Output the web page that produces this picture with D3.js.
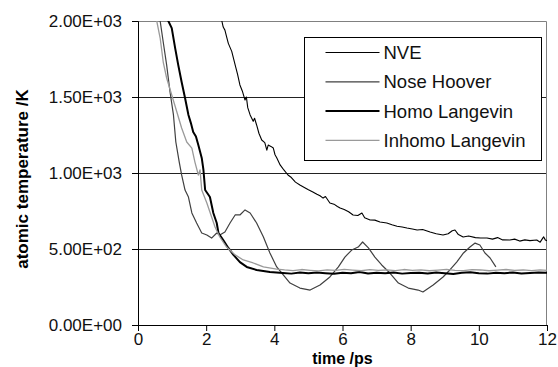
<!DOCTYPE html>
<html>
<head>
<meta charset="utf-8">
<script src="https://cdn.jsdelivr.net/npm/d3@7"></script>
<style>
  body { margin: 0; background: #fff; }
  svg { font-family: Arial, "Liberation Sans", Helvetica, sans-serif; }
</style>
</head>
<body>
<div id="chart"></div>
<script>
// time (ps) and atomic temperature (K)
const nveT = [2.40, 2.46, 2.50, 2.55, 2.60, 2.65, 2.75, 2.85, 2.92, 2.99, 3.06, 3.14, 3.18, 3.22, 3.29, 3.38, 3.42, 3.48, 3.55, 3.63, 3.72, 3.78, 3.82, 3.90, 3.97, 4.02, 4.07, 4.17, 4.28, 4.40, 4.50, 4.62, 4.75, 4.88, 5.00, 5.13, 5.25, 5.34, 5.43, 5.50, 5.63, 5.75, 5.85, 5.93, 6.05, 6.18, 6.31, 6.45, 6.57, 6.65, 6.81, 6.95, 7.10, 7.30, 7.45, 7.60, 7.75, 7.89, 8.05, 8.19, 8.35, 8.57, 8.75, 8.95, 9.10, 9.22, 9.30, 9.40, 9.54, 9.70, 9.90, 10.05, 10.24, 10.40, 10.55, 10.70, 10.91, 11.05, 11.20, 11.35, 11.50, 11.70, 11.80, 11.90, 11.95, 12.00];
const nveV = [2080, 2000, 1960, 1940, 1895, 1853, 1800, 1711, 1650, 1579, 1540, 1480, 1500, 1430, 1382, 1340, 1360, 1316, 1260, 1217, 1200, 1150, 1184, 1175, 1164, 1120, 1100, 1053, 1020, 987, 970, 940, 921, 905, 890, 875, 860, 850, 835, 845, 803, 795, 780, 770, 760, 745, 724, 720, 737, 705, 691, 690, 678, 671, 660, 650, 645, 638, 632, 625, 628, 612, 600, 592, 600, 620, 625, 595, 579, 585, 575, 572, 572, 565, 575, 560, 559, 565, 552, 560, 555, 559, 545, 580, 560, 555];

const noseT = [0.55, 0.65, 0.74, 0.84, 0.94, 1.04, 1.11, 1.21, 1.28, 1.38, 1.48, 1.58, 1.72, 1.87, 2.02, 2.16, 2.31, 2.40, 2.55, 2.70, 2.85, 2.99, 3.14, 3.29, 3.48, 3.68, 3.87, 4.07, 4.31, 4.46, 4.75, 5.05, 5.34, 5.63, 5.88, 6.07, 6.27, 6.46, 6.59, 6.76, 6.95, 7.15, 7.39, 7.64, 7.93, 8.22, 8.36, 8.66, 8.95, 9.15, 9.35, 9.55, 9.74, 9.89, 10.03, 10.18, 10.33, 10.50];
const noseV = [2150, 2000, 1862, 1711, 1533, 1382, 1204, 1072, 987, 888, 842, 737, 671, 605, 592, 572, 605, 592, 612, 671, 724, 724, 757, 737, 671, 579, 474, 382, 316, 276, 243, 230, 263, 316, 382, 447, 493, 513, 546, 507, 447, 395, 342, 276, 243, 230, 217, 263, 316, 362, 414, 474, 513, 539, 526, 474, 441, 382];

const homoT = [0.85, 0.89, 0.99, 1.09, 1.18, 1.28, 1.38, 1.48, 1.55, 1.62, 1.70, 1.77, 1.87, 1.92, 1.97, 2.11, 2.21, 2.31, 2.36, 2.50, 2.65, 2.80, 2.99, 3.19, 3.48, 3.87, 4.25, 4.50, 4.75, 5.00, 5.25, 5.50, 5.75, 6.00, 6.25, 6.50, 6.75, 7.00, 7.25, 7.50, 7.75, 8.00, 8.25, 8.50, 8.75, 9.00, 9.25, 9.50, 9.75, 10.00, 10.25, 10.50, 10.75, 11.00, 11.25, 11.50, 11.75, 12.00];
const homoV = [2050, 2000, 1953, 1822, 1711, 1599, 1493, 1382, 1330, 1270, 1240, 1184, 1099, 1020, 888, 842, 737, 671, 605, 559, 507, 461, 414, 382, 362, 349, 342, 338, 345, 340, 346, 341, 337, 344, 340, 348, 339, 343, 341, 346, 338, 342, 344, 339, 345, 341, 336, 343, 347, 340, 338, 344, 341, 346, 339, 342, 345, 343];

const inhomoT = [0.52, 0.55, 0.65, 0.74, 0.84, 0.99, 1.14, 1.28, 1.43, 1.58, 1.67, 1.77, 1.82, 1.87, 2.02, 2.16, 2.26, 2.40, 2.60, 2.85, 3.09, 3.38, 3.68, 4.07, 4.30, 4.55, 4.80, 5.05, 5.30, 5.55, 5.80, 6.05, 6.30, 6.55, 6.80, 7.05, 7.30, 7.55, 7.80, 8.05, 8.30, 8.55, 8.80, 9.05, 9.30, 9.55, 9.80, 10.05, 10.30, 10.55, 10.80, 11.05, 11.30, 11.55, 11.80, 12.00];
const inhomoV = [2050, 2000, 1888, 1730, 1625, 1513, 1401, 1296, 1204, 1164, 1072, 987, 1020, 888, 803, 711, 645, 579, 513, 461, 428, 408, 382, 368, 362, 358, 365, 360, 356, 363, 359, 366, 361, 357, 364, 360, 362, 358, 365, 359, 363, 357, 361, 366, 360, 358, 364, 362, 357, 361, 365, 359, 362, 358, 363, 360];

const seriesNames = ["NVE", "Nose Hoover", "Homo Langevin", "Inhomo Langevin"];
const seriesColors = ["#000000", "#404040", "#000000", "#9a9a9a"];
const seriesWidths = [1.1, 1.2, 2, 1.3];

const xTicks = [0, 2, 4, 6, 8, 10, 12];
const yTicks = [0, 500, 1000, 1500, 2000];

const series = [
    {name: seriesNames[0], t: nveT, v: nveV},
    {name: seriesNames[1], t: noseT, v: noseV},
    {name: seriesNames[2], t: homoT, v: homoV},
    {name: seriesNames[3], t: inhomoT, v: inhomoV}
].map((s, i) => ({
    name: s.name,
    color: seriesColors[i],
    width: seriesWidths[i],
    points: s.t.map((t, j) => ({t: t, v: s.v[j]}))
}));

const width = 558, height = 367;
const margin = {top: 21, right: 11, bottom: 42, left: 138};
const innerW = width - margin.left - margin.right;
const innerH = height - margin.top - margin.bottom;

const svg = d3.select("#chart").append("svg")
    .attr("width", width)
    .attr("height", height);

const chart = svg.append("g")
    .attr("transform", `translate(${margin.left},${margin.top})`);

const xScale = d3.scaleLinear().domain([0, 12]).range([0, innerW]);
const yScale = d3.scaleLinear().domain([0, 2000]).range([innerH, 0]);

// clip so the curves stop at the top of the plot
chart.append("clipPath").attr("id", "plot-clip")
    .append("rect")
    .attr("width", innerW)
    .attr("height", innerH);

// horizontal gridlines
chart.selectAll(".grid")
    .data(yTicks.filter(d => d > 0 && d < 2000))
    .join("line")
    .attr("class", "grid")
    .attr("x1", 0)
    .attr("x2", innerW)
    .attr("y1", d => Math.round(yScale(d)) + 0.5)
    .attr("y2", d => Math.round(yScale(d)) + 0.5)
    .attr("stroke", "#222")
    .attr("stroke-width", 1);

// top and right plot border
chart.append("path")
    .attr("d", `M0,0.5H${innerW - 0.5}V${innerH}`)
    .attr("fill", "none")
    .attr("stroke", "#808080")
    .attr("stroke-width", 1);

// lines
const line = d3.line()
    .x(d => xScale(d.t))
    .y(d => yScale(d.v));

chart.append("g")
    .attr("clip-path", "url(#plot-clip)")
    .selectAll(".series")
    .data(series)
    .join("path")
    .attr("class", "series")
    .attr("fill", "none")
    .attr("stroke", d => d.color)
    .attr("stroke-width", d => d.width)
    .attr("stroke-linejoin", "round")
    .attr("d", d => line(d.points));

// axes
const xAxis = d3.axisBottom(xScale)
    .tickValues(xTicks)
    .tickSize(6)
    .tickPadding(2)
    .tickFormat(d3.format("d"));

const yAxis = d3.axisLeft(yScale)
    .tickValues(yTicks)
    .tickSize(6)
    .tickPadding(10)
    .tickFormat(d => d3.format(".2e")(d).toUpperCase().replace(/E([+-])(\d)$/, "E$10$2"));

const xAxisG = chart.append("g")
    .attr("transform", `translate(0,${innerH})`)
    .call(xAxis);

const yAxisG = chart.append("g")
    .call(yAxis);

[xAxisG, yAxisG].forEach(g => {
    g.select(".domain").attr("stroke", "#000");
    g.selectAll(".tick line").attr("stroke", "#000");
    g.selectAll("text")
        .attr("fill", "#111")
        .style("font-size", "17px")
        .style("font-family", "Arial, 'Liberation Sans', sans-serif");
});

// axis titles
svg.append("text")
    .attr("x", margin.left + innerW / 2)
    .attr("y", 363.5)
    .attr("text-anchor", "middle")
    .style("font-size", "16px")
    .style("font-weight", "bold")
    .text("time /ps");

svg.append("text")
    .attr("transform", "translate(28,179) rotate(-90)")
    .attr("text-anchor", "middle")
    .style("font-size", "17px")
    .style("font-weight", "bold")
    .text("atomic temperature /K");

// legend
const legend = svg.append("g")
    .attr("transform", "translate(304.5,37.5)");

legend.append("rect")
    .attr("width", 237)
    .attr("height", 123)
    .attr("fill", "#fff")
    .attr("stroke", "#000")
    .attr("stroke-width", 1);

const item = legend.selectAll(".item")
    .data(series)
    .join("g")
    .attr("class", "item")
    .attr("transform", (d, i) => `translate(0,${15 + i * 29.3})`);

item.append("line")
    .attr("x1", 21)
    .attr("x2", 75)
    .attr("stroke", d => d.color)
    .attr("stroke-width", d => d.width);

item.append("text")
    .attr("x", 79)
    .attr("dy", "0.35em")
    .attr("fill", "#111")
    .style("font-size", "18.5px")
    .text(d => d.name);
</script>
</body>
</html>
